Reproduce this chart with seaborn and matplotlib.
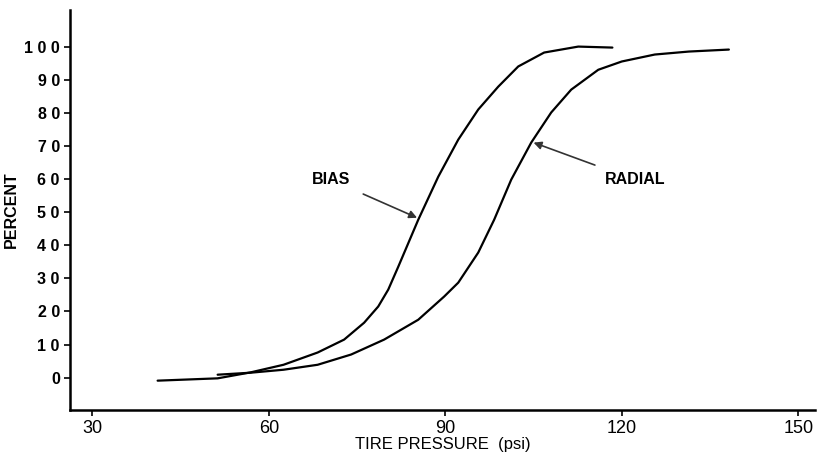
import numpy as np
import pandas as pd
import matplotlib
matplotlib.use("Agg")
import matplotlib.pyplot as plt
import seaborn as sns

# values
bias_psi = [41.1, 51.3, 56.9, 62.5, 68.3, 72.8, 76.2, 78.6, 80.3, 82.0, 85.4,
            88.8, 92.2, 95.6, 99.0, 102.4, 106.8, 112.6, 118.4]
bias_pct = [-0.9, -0.2, 1.6, 3.9, 7.6, 11.5, 16.6, 21.5, 26.6, 33.5, 47.7,
            60.7, 71.9, 81.0, 87.9, 94.0, 98.2, 100.0, 99.7]

radial_psi = [51.3, 56.9, 62.5, 68.3, 74.0, 79.6, 85.4, 89.8, 92.2, 95.6, 98.3,
              101.2, 104.6, 108.0, 111.4, 116.0, 120.0, 125.6, 131.4, 138.2]
radial_pct = [0.9, 1.5, 2.4, 3.9, 7.0, 11.5, 17.5, 24.5, 28.7, 37.8, 47.7,
              59.8, 71.0, 80.1, 87.0, 93.0, 95.5, 97.6, 98.5, 99.1]

x_ticks = [30, 60, 90, 120, 150]
y_ticks = list(range(0, 101, 10))

df = pd.concat([
    pd.DataFrame({"psi": bias_psi, "pct": bias_pct, "tire": "BIAS"}),
    pd.DataFrame({"psi": radial_psi, "pct": radial_pct, "tire": "RADIAL"}),
])

sns.set_style("ticks")
plt.rcParams["font.family"] = ["Liberation Sans", "DejaVu Sans"]
plt.rcParams["text.color"] = "black"
plt.rcParams["axes.labelcolor"] = "black"

fig = plt.figure(figsize=(8.17, 4.62), dpi=100)
ax = fig.add_axes([0.086, 0.113, 0.912, 0.865])

for name, grp in df.groupby("tire"):
    sns.lineplot(data=grp, x="psi", y="pct", color="black", linewidth=1.6,
                 ax=ax, legend=False, sort=False)

ax.set_xlim(26.25, 152.9)
ax.set_ylim(-9.7, 111)
ax.set_xticks(x_ticks)
ax.set_yticks(y_ticks)
ax.set_xticklabels([str(v) for v in x_ticks], fontsize=13)
ax.set_yticklabels([" ".join(str(v)) for v in y_ticks], fontsize=11.5, fontweight="bold")
ax.tick_params(axis="both", direction="out", length=4, width=1.2, colors="black")
for s in ["left", "bottom"]:
    ax.spines[s].set_linewidth(1.8)
    ax.spines[s].set_color("black")
sns.despine(ax=ax)

ax.set_xlabel("TIRE PRESSURE  (psi)", fontsize=12, labelpad=0)
ax.set_ylabel("PERCENT", fontsize=11.5, fontweight="bold", labelpad=4)

ax.annotate("BIAS", xy=(85.2, 48.3), xytext=(70.5, 59.8), fontsize=11.5,
            fontweight="bold", ha="center", va="center",
            arrowprops=dict(arrowstyle="-|>", color="#333333", lw=1.2,
                            shrinkA=8, shrinkB=0))
ax.annotate("RADIAL", xy=(105.0, 71.0), xytext=(122.2, 59.8), fontsize=11.5,
            fontweight="bold", ha="center", va="center",
            arrowprops=dict(arrowstyle="-|>", color="#333333", lw=1.2,
                            shrinkA=8, shrinkB=0))

fig.savefig("out.png", dpi=100)
